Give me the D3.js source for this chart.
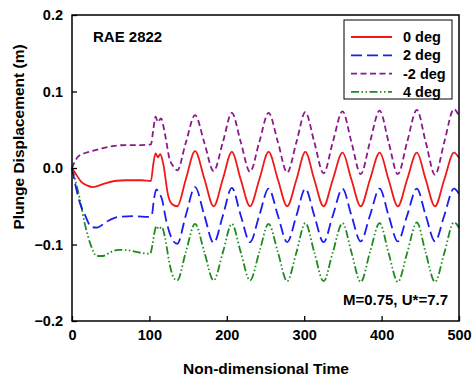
<!DOCTYPE html>
<html><head><meta charset="utf-8">
<script src="https://cdn.jsdelivr.net/npm/d3@7"></script>
<style>body{margin:0;background:#fff;} text{font-family:"Liberation Sans",Arial,sans-serif;font-weight:bold;}</style>
</head><body><svg id="c" width="472" height="382"></svg>
<script>
// ---- data ----
const xTicks = [0, 100, 200, 300, 400, 500];
const yTicks = [-0.2, -0.1, 0.0, 0.1, 0.2];
const seriesNames = ["0 deg", "2 deg", "-2 deg", "4 deg"];

const oscT = [147,159,171,183,195,206.5,218,230,242,254,266,278,290,301.5,313,325,337,349.5,361,373,385,397.5,409,421,433,445.5,457,469,481,493.5,500];

const red_t = [0,5,12,20,27,40,55,70,90,102,105,108,111,114,118,124,129,136];
const red_v = [0,-0.008,-0.018,-0.023,-0.025,-0.021,-0.017,-0.016,-0.016,-0.017,0.005,0.019,0.014,0.018,0.005,-0.035,-0.047,-0.050];
const red_osc = [-0.015,0.022,-0.014,-0.050,-0.014,0.021,-0.015,-0.050,-0.015,0.021,-0.015,-0.050,-0.015,0.021,-0.015,-0.050,-0.015,0.020,-0.015,-0.050,-0.015,0.020,-0.015,-0.050,-0.015,0.020,-0.015,-0.050,-0.015,0.020,0.013];

const blue_t = [0,5,10,17,25,32,45,60,80,100,103,106,109,112,116,122,128,136];
const blue_v = [0,-0.025,-0.045,-0.062,-0.077,-0.078,-0.070,-0.064,-0.063,-0.064,-0.062,-0.040,-0.028,-0.032,-0.040,-0.070,-0.090,-0.099];
const blue_osc = [-0.062,-0.025,-0.062,-0.098,-0.062,-0.026,-0.062,-0.097,-0.062,-0.027,-0.062,-0.097,-0.062,-0.027,-0.062,-0.097,-0.062,-0.027,-0.062,-0.096,-0.062,-0.027,-0.062,-0.096,-0.062,-0.027,-0.062,-0.096,-0.062,-0.027,-0.034];

const purple_t = [0,3,8,15,25,40,55,70,90,102,105,108,111,115,120,126,131,136];
const purple_v = [0,0.007,0.015,0.019,0.022,0.026,0.029,0.030,0.030,0.031,0.050,0.067,0.060,0.065,0.045,0.012,0.002,-0.003];
const purple_osc = [0.033,0.069,0.033,-0.004,0.034,0.072,0.034,-0.005,0.034,0.072,0.034,-0.006,0.034,0.073,0.034,-0.007,0.034,0.074,0.034,-0.008,0.034,0.075,0.034,-0.008,0.034,0.076,0.034,-0.009,0.034,0.077,0.068];

const green_t = [0,4,10,17,24,32,40,50,60,75,90,101,104,107,109,112,116,120,126,131,136];
const green_v = [0,-0.015,-0.040,-0.075,-0.100,-0.115,-0.115,-0.110,-0.107,-0.108,-0.111,-0.112,-0.100,-0.082,-0.076,-0.080,-0.077,-0.090,-0.125,-0.143,-0.147];
const green_osc = [-0.110,-0.073,-0.110,-0.147,-0.110,-0.073,-0.110,-0.147,-0.110,-0.073,-0.110,-0.148,-0.110,-0.072,-0.110,-0.148,-0.110,-0.072,-0.110,-0.149,-0.110,-0.072,-0.111,-0.149,-0.111,-0.071,-0.111,-0.149,-0.111,-0.071,-0.078];

// ---- build ----
const svg = d3.select("#c");
const L = 72, R = 459, T = 15, B = 321;
const x = d3.scaleLinear().domain([0, 500]).range([L, R]);
const y = d3.scaleLinear().domain([-0.2, 0.2]).range([B, T]);

const series = [
  {name: seriesNames[0], t: red_t, v: red_v, o: red_osc, color: "#f01818", dash: null},
  {name: seriesNames[1], t: blue_t, v: blue_v, o: blue_osc, color: "#1c1cf0", dash: "11,5"},
  {name: seriesNames[2], t: purple_t, v: purple_v, o: purple_osc, color: "#8a1a8a", dash: "6,3.5"},
  {name: seriesNames[3], t: green_t, v: green_v, o: green_osc, color: "#1f8a1f", dash: "8,2.5,1.5,2.5,1.5,2.5"}
];
const line = d3.line().x(d => x(d[0])).y(d => y(d[1])).curve(d3.curveMonotoneX);

const plot = svg.append("g");
[3, 1, 2, 0].forEach(k => {
  const s = series[k];
  const data = s.t.map((t, i) => [t, s.v[i]]).concat(oscT.map((t, i) => [t, s.o[i]]));
  plot.append("path").datum(data).attr("d", line)
    .attr("fill", "none").attr("stroke", s.color).attr("stroke-width", 1.8)
    .attr("stroke-dasharray", s.dash);
});

// axes
const xAxis = d3.axisBottom(x).tickValues(xTicks).tickSize(-5).tickPadding(9).tickFormat(d3.format("d"));
const yAxis = d3.axisLeft(y).tickValues(yTicks).tickSize(-5).tickPadding(9).tickFormat(d3.format(".1f"));
const gx = svg.append("g").attr("transform", `translate(0,${B})`).call(xAxis);
const gy = svg.append("g").attr("transform", `translate(${L},0)`).call(yAxis);
[gx, gy].forEach(g => {
  g.select(".domain").remove();
  g.selectAll(".tick line").attr("stroke", "#000").attr("stroke-width", 1.3);
  g.selectAll("text").attr("font-size", 14.5).attr("fill", "#000")
   .style("font-family", '"Liberation Sans",Arial,sans-serif').style("font-weight", "bold");
});
gy.selectAll(".tick text").text(d => d === 0 ? "0.0" : d3.format(".1f")(d));

// frame
svg.append("rect").attr("x", L).attr("y", T).attr("width", R - L).attr("height", B - T)
  .attr("fill", "none").attr("stroke", "#000").attr("stroke-width", 1.5);

// titles
svg.append("text").attr("x", 266).attr("y", 374).attr("text-anchor", "middle")
  .attr("font-size", 15.5).text("Non-dimensional Time");
svg.append("text").attr("transform", "translate(24,137) rotate(-90)").attr("text-anchor", "middle")
  .attr("font-size", 15.5).text("Plunge Displacement (m)");

svg.append("text").attr("x", 93).attr("y", 42).attr("font-size", 15).text("RAE 2822");
svg.append("text").attr("x", 448).attr("y", 305).attr("text-anchor", "end").attr("font-size", 15).text("M=0.75, U*=7.7");

// legend
const lg = svg.append("g");
lg.append("rect").attr("x", 344).attr("y", 20).attr("width", 108).attr("height", 79)
  .attr("fill", "#fff").attr("stroke", "#000").attr("stroke-width", 1);
series.forEach((s, i) => {
  const yy = 37 + i * 18.3;
  lg.append("line").attr("x1", 351).attr("x2", 392).attr("y1", yy).attr("y2", yy)
    .attr("stroke", s.color).attr("stroke-width", 1.8).attr("stroke-dasharray", s.dash);
  lg.append("text").attr("x", 403).attr("y", yy + 5).attr("font-size", 14.5).text(s.name);
});
</script></body></html>
